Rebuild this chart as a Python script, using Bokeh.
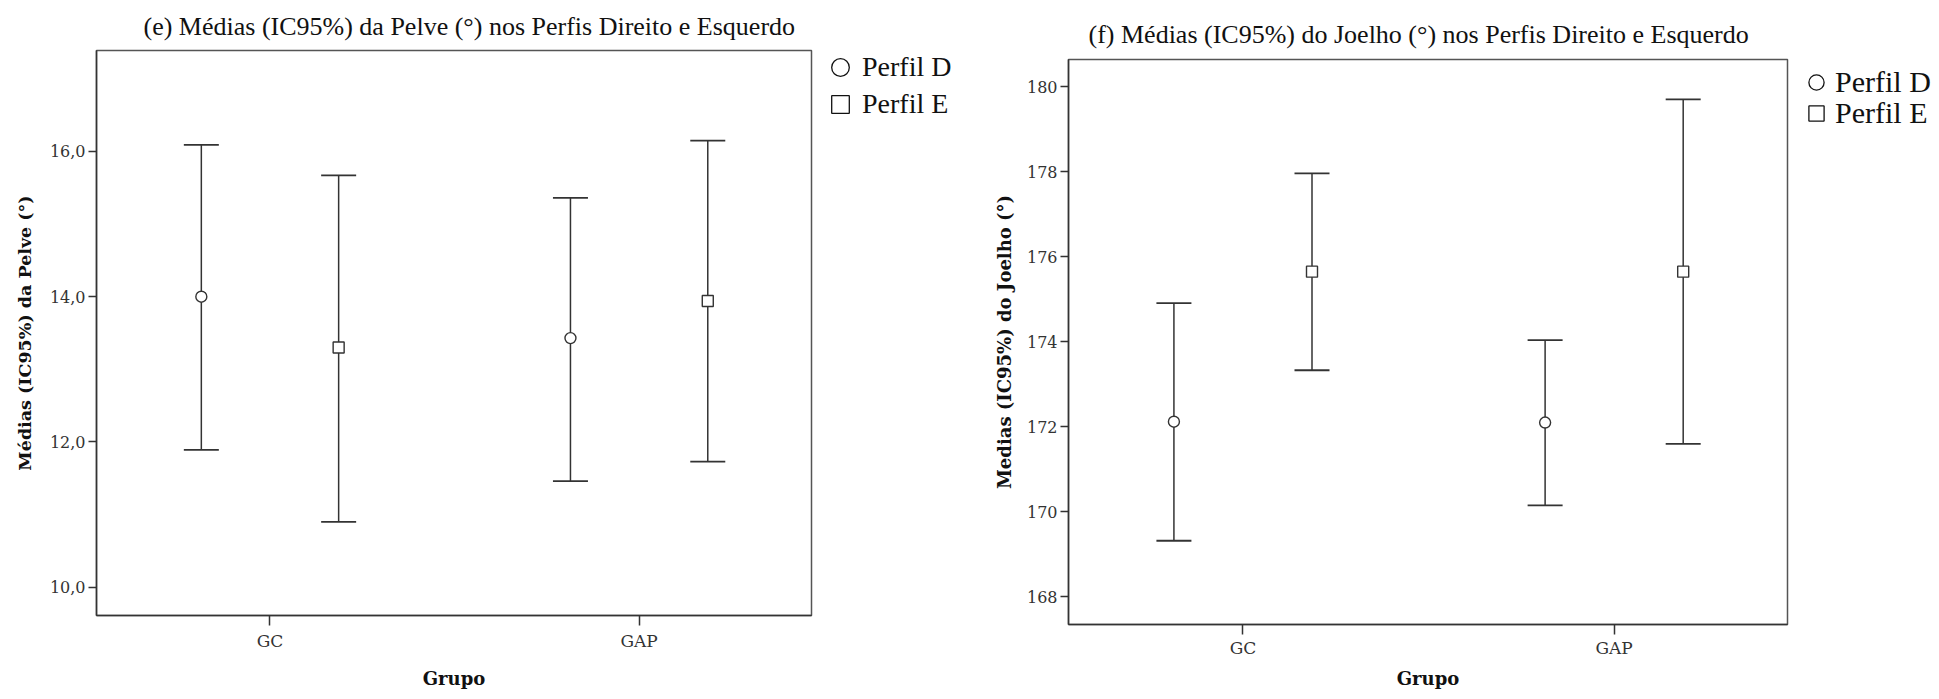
from bokeh.plotting import figure
from bokeh.layouts import row, column
from bokeh.models import (ColumnDataSource, Whisker, TeeHead, FixedTicker, Range1d,
                          Legend, LegendItem, Label)
from bokeh.transform import dodge
from bokeh.embed import file_html
from bokeh.resources import INLINE

# ---------------- data ----------------
groups = ["GC", "GAP"]

# (e) Pelve
pelve_d_mean = [14.00, 13.43]
pelve_d_low = [11.89, 11.46]
pelve_d_up = [16.09, 15.36]
pelve_e_mean = [13.30, 13.94]
pelve_e_low = [10.90, 11.73]
pelve_e_up = [15.67, 16.15]
pelve_ticks = [10, 12, 14, 16]
pelve_tick_labels = ["10,0", "12,0", "14,0", "16,0"]

# (f) Joelho
joelho_d_mean = [172.12, 172.10]
joelho_d_low = [169.32, 170.15]
joelho_d_up = [174.91, 174.04]
joelho_e_mean = [175.65, 175.65]
joelho_e_low = [173.33, 171.60]
joelho_e_up = [177.96, 179.70]
joelho_ticks = [168, 170, 172, 174, 176, 178, 180]
joelho_tick_labels = ["168", "170", "172", "174", "176", "178", "180"]

series_labels = ["Perfil D", "Perfil E"]
titles = ["(e) Médias (IC95%) da Pelve (°) nos Perfis Direito e Esquerdo",
          "(f) Médias (IC95%) do Joelho (°) nos Perfis Direito e Esquerdo"]
ylabels = ["Médias (IC95%) da Pelve (°)", "Medias (IC95%) do Joelho (°)"]
xlabel = "Grupo"

LINE = "#333333"
SERIF = "Liberation Serif"
TICKF = "DejaVu Serif"
H = 699


def blank_fig(width, height, **kw):
    f = figure(width=width, height=height, output_backend="svg", toolbar_location=None,
               x_range=Range1d(0, 1), y_range=Range1d(0, 1),
               x_axis_type=None, y_axis_type=None, outline_line_color=None,
               background_fill_color="white", border_fill_color="white", **kw)
    return f


def title_fig(text, width, height, x0, cy):
    # x0 is measured from the chart frame's left edge (frames align in a column)
    t = blank_fig(width, height, min_border=0)
    t.add_layout(Label(x=x0, y=cy, x_units="screen", y_units="screen", text=text,
                       text_align="left", text_baseline="middle",
                       text_font=SERIF, text_font_size="26px", text_color="#111111"))
    return t


def make_chart(ylabel, src_d, src_e, ticks, tick_labels, yr, width, height,
               borders, ylabel_size, ylabel_standoff, xl_standoff, xlab_standoff):
    bl, br, bt, bb = borders
    p = figure(width=width, height=height, output_backend="svg", toolbar_location=None,
               x_range=Range1d(-0.47, 1.467), y_range=Range1d(*yr),
               min_border_left=bl, min_border_right=br, min_border_top=bt,
               min_border_bottom=bb, background_fill_color="white",
               border_fill_color="white")
    p.grid.visible = False
    p.outline_line_color = "#555555"
    p.outline_line_width = 1.5

    for src, off, marker in ((src_d, -0.186, "circle"), (src_e, 0.186, "square")):
        w = Whisker(source=src, base=dodge("x", off), upper="up", lower="lo",
                    line_color=LINE, line_width=1.5, level="underlay",
                    upper_head=TeeHead(size=35, line_color=LINE, line_width=1.8),
                    lower_head=TeeHead(size=35, line_color=LINE, line_width=1.8))
        p.add_layout(w)
        p.scatter(x=dodge("x", off), y="m", source=src, marker=marker, size=11,
                  fill_color="white", line_color=LINE, line_width=1.4)

    xs = list(src_d.data["x"])
    p.xaxis.ticker = FixedTicker(ticks=xs)
    p.xaxis.major_label_overrides = {i: g for i, g in zip(xs, groups)}
    p.yaxis.ticker = FixedTicker(ticks=ticks)
    p.yaxis.major_label_overrides = {t: l for t, l in zip(ticks, tick_labels)}
    for ax in (p.xaxis, p.yaxis):
        ax.minor_tick_line_color = None
        ax.major_tick_in = 0
        ax.axis_line_color = "#333333"
        ax.axis_line_width = 1.5
        ax.major_tick_line_color = "#333333"
        ax.major_tick_line_width = 1.5
        ax.major_label_text_font = TICKF
        ax.major_label_text_color = "#333333"
        ax.axis_label_text_font = TICKF
        ax.axis_label_text_font_style = "bold"
        ax.axis_label_text_color = "#111111"
    p.xaxis.axis_label_text_font_size = "18px"
    p.yaxis.axis_label_text_font_size = ylabel_size
    p.xaxis.major_tick_out = 10
    p.yaxis.major_tick_out = 8
    p.xaxis.major_label_text_font_size = "17px"
    p.yaxis.major_label_text_font_size = "16px"
    p.xaxis.major_label_standoff = xl_standoff
    p.yaxis.major_label_standoff = 3
    p.xaxis.axis_label = xlabel
    p.yaxis.axis_label = ylabel
    p.xaxis.axis_label_standoff = xlab_standoff
    p.yaxis.axis_label_standoff = ylabel_standoff
    return p


def legend_fig(src_d, src_e, width, left, row_tops, font_size, gw, gh, standoff):
    f = blank_fig(width, H, min_border_left=left, min_border_top=0,
                  min_border_right=0, min_border_bottom=0)
    # the glyph renderers sit outside the visible range: they only feed the legend
    r_d = f.scatter(x="x", y="m", source=src_d, marker="circle", fill_color="white",
                    line_color="#111111", line_width=1.3)
    r_e = f.scatter(x="x", y="m", source=src_e, marker="square", fill_color="white",
                    line_color="#111111", line_width=1.3)
    for label, rend, top in zip(series_labels, (r_d, r_e), row_tops):
        legend = Legend(items=[LegendItem(label=label, renderers=[rend])],
                        location=(0, H - top - gh), padding=0, margin=0, spacing=0,
                        glyph_width=gw, glyph_height=gh, label_height=gh,
                        label_standoff=standoff, border_line_color=None,
                        background_fill_alpha=0, label_text_font=SERIF,
                        label_text_font_size=font_size, label_text_line_height=1.0,
                        label_text_color="#111111")
        f.add_layout(legend)
    return f


xs = list(range(len(groups)))
pel_d = ColumnDataSource(dict(x=xs, m=pelve_d_mean, lo=pelve_d_low, up=pelve_d_up))
pel_e = ColumnDataSource(dict(x=xs, m=pelve_e_mean, lo=pelve_e_low, up=pelve_e_up))
joe_d = ColumnDataSource(dict(x=xs, m=joelho_d_mean, lo=joelho_d_low, up=joelho_d_up))
joe_e = ColumnDataSource(dict(x=xs, m=joelho_e_mean, lo=joelho_e_low, up=joelho_e_up))

# left block: x 0..960
t1 = title_fig(titles[0], 813, 49, 47, 22.7)
p1 = make_chart(ylabels[0], pel_d, pel_e, pelve_ticks, pelve_tick_labels,
                (9.61, 17.39), 813, 650, (96, 2, 1, 84), "17.5px", 12, 5, 14)
l1 = legend_fig(pel_d, pel_e, 147, 5, (44.5, 82), "28px", 44, 44, 0)

# right block: x 960..1939
t2 = title_fig(titles[1], 829, 58, 20, 23.7)
p2 = make_chart(ylabels[1], joe_d, joe_e, joelho_ticks, joelho_tick_labels,
                (167.35, 180.64), 829, 641, (108, 2, 1, 75), "18px", 9, 3, 7)
l2 = legend_fig(joe_d, joe_e, 150, 8, (63, 94), "30px", 38, 38, 0)

layout = row(row(column(t1, p1), l1), row(column(t2, p2), l2))
open("out.html", "w").write(file_html(layout, INLINE))
